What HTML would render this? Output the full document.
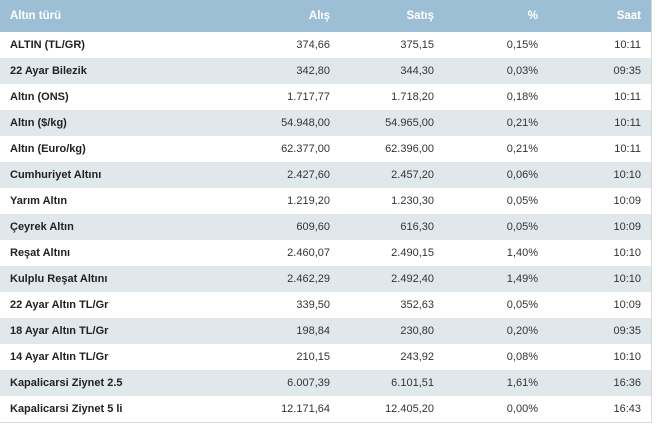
<!DOCTYPE html>
<html><head><meta charset="utf-8"><style>
body{margin:0;background:#fff;width:656px;height:426px;overflow:hidden;font-family:"Liberation Sans",Arial,sans-serif;font-size:11px}
table{border-collapse:collapse;width:652px;border-right:1px solid #d8d8d8;border-bottom:1px solid #d8d8d8}
th{background:#9dbfd6;color:#fff;font-weight:bold;height:32px;padding:0;text-align:right;font-size:11.5px}
td{height:26px;padding:0;text-align:right;color:#333}
td:first-child,th:first-child{text-align:left;padding-left:10px;font-weight:bold;color:#222}
th:first-child{color:#fff}
tr:nth-child(odd) td{background:#e1e8ec}
.c2{width:320px}.c3{width:104px}.c4{width:104px}.c5{width:104px;padding-right:10px}
td:last-child,th:last-child{padding-right:10px}
</style></head><body>
<table>
<tr><th style="width:200px">Altın türü</th><th class="c2" style="width:120px">Alış</th><th style="width:104px">Satış</th><th style="width:104px">%</th><th>Saat</th></tr>
<tr><td>ALTIN (TL/GR)</td><td>374,66</td><td>375,15</td><td>0,15%</td><td>10:11</td></tr>
<tr><td>22 Ayar Bilezik</td><td>342,80</td><td>344,30</td><td>0,03%</td><td>09:35</td></tr>
<tr><td>Altın (ONS)</td><td>1.717,77</td><td>1.718,20</td><td>0,18%</td><td>10:11</td></tr>
<tr><td>Altın ($/kg)</td><td>54.948,00</td><td>54.965,00</td><td>0,21%</td><td>10:11</td></tr>
<tr><td>Altın (Euro/kg)</td><td>62.377,00</td><td>62.396,00</td><td>0,21%</td><td>10:11</td></tr>
<tr><td>Cumhuriyet Altını</td><td>2.427,60</td><td>2.457,20</td><td>0,06%</td><td>10:10</td></tr>
<tr><td>Yarım Altın</td><td>1.219,20</td><td>1.230,30</td><td>0,05%</td><td>10:09</td></tr>
<tr><td>Çeyrek Altın</td><td>609,60</td><td>616,30</td><td>0,05%</td><td>10:09</td></tr>
<tr><td>Reşat Altını</td><td>2.460,07</td><td>2.490,15</td><td>1,40%</td><td>10:10</td></tr>
<tr><td>Kulplu Reşat Altını</td><td>2.462,29</td><td>2.492,40</td><td>1,49%</td><td>10:10</td></tr>
<tr><td>22 Ayar Altın TL/Gr</td><td>339,50</td><td>352,63</td><td>0,05%</td><td>10:09</td></tr>
<tr><td>18 Ayar Altın TL/Gr</td><td>198,84</td><td>230,80</td><td>0,20%</td><td>09:35</td></tr>
<tr><td>14 Ayar Altın TL/Gr</td><td>210,15</td><td>243,92</td><td>0,08%</td><td>10:10</td></tr>
<tr><td>Kapalicarsi Ziynet 2.5</td><td>6.007,39</td><td>6.101,51</td><td>1,61%</td><td>16:36</td></tr>
<tr><td>Kapalicarsi Ziynet 5 li</td><td>12.171,64</td><td>12.405,20</td><td>0,00%</td><td>16:43</td></tr>
</table>
</body></html>
